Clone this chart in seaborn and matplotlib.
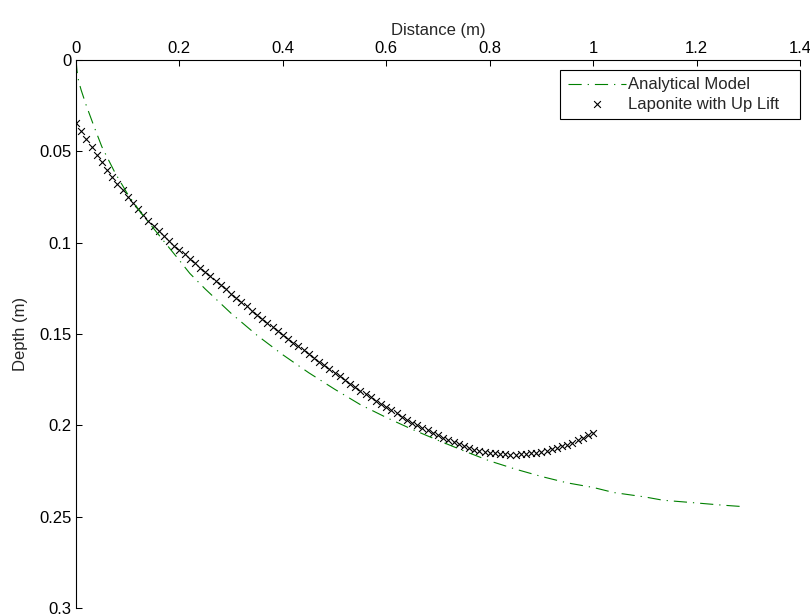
import matplotlib
matplotlib.use("Agg")
import matplotlib.pyplot as plt
import seaborn as sns
import pandas as pd

# ---------------- data ----------------
analytical_x = [0.000, 0.002, 0.005, 0.010, 0.020, 0.035, 0.050, 0.075, 0.100, 0.125,
                0.150, 0.175, 0.200, 0.220, 0.250, 0.300, 0.350, 0.400, 0.450, 0.500,
                0.550, 0.600, 0.650, 0.700, 0.750, 0.800, 0.850, 0.900, 0.950, 1.000,
                1.040, 1.100, 1.135, 1.200, 1.250, 1.290]
analytical_depth = [0.0000, 0.0060, 0.0115, 0.0165, 0.0250, 0.0365, 0.0475, 0.0615, 0.0735, 0.0835,
                    0.0922, 0.1010, 0.1097, 0.1168, 0.1254, 0.1387, 0.1507, 0.1614, 0.1712, 0.1802,
                    0.1887, 0.1957, 0.2022, 0.2082, 0.2140, 0.2195, 0.2240, 0.2280, 0.2315, 0.2340,
                    0.2368, 0.2392, 0.2410, 0.2425, 0.2437, 0.2445]

laponite_x = [0.00, 0.01, 0.02, 0.03, 0.04, 0.05, 0.06, 0.07, 0.08, 0.09,
              0.10, 0.11, 0.12, 0.13, 0.14, 0.15, 0.16, 0.17, 0.18, 0.19,
              0.20, 0.21, 0.22, 0.23, 0.24, 0.25, 0.26, 0.27, 0.28, 0.29,
              0.30, 0.31, 0.32, 0.33, 0.34, 0.35, 0.36, 0.37, 0.38, 0.39,
              0.40, 0.41, 0.42, 0.43, 0.44, 0.45, 0.46, 0.47, 0.48, 0.49,
              0.50, 0.51, 0.52, 0.53, 0.54, 0.55, 0.56, 0.57, 0.58, 0.59,
              0.60, 0.61, 0.62, 0.63, 0.64, 0.65, 0.66, 0.67, 0.68, 0.69,
              0.70, 0.71, 0.72, 0.73, 0.74, 0.75, 0.76, 0.77, 0.78, 0.79,
              0.80, 0.81, 0.82, 0.83, 0.84, 0.85, 0.86, 0.87, 0.88, 0.89,
              0.90, 0.91, 0.92, 0.93, 0.94, 0.95, 0.96, 0.97, 0.98, 0.99,
              1.00]
laponite_depth = [0.0345, 0.0391, 0.0435, 0.0478, 0.0520, 0.0560, 0.0600, 0.0639, 0.0677, 0.0714,
                  0.0750, 0.0785, 0.0818, 0.0850, 0.0881, 0.0910, 0.0938, 0.0965, 0.0991, 0.1016,
                  0.1040, 0.1064, 0.1088, 0.1112, 0.1136, 0.1160, 0.1184, 0.1208, 0.1232, 0.1256,
                  0.1280, 0.1303, 0.1326, 0.1349, 0.1372, 0.1395, 0.1417, 0.1439, 0.1461, 0.1483,
                  0.1505, 0.1526, 0.1547, 0.1568, 0.1589, 0.1610, 0.1631, 0.1652, 0.1672, 0.1692,
                  0.1712, 0.1732, 0.1752, 0.1772, 0.1791, 0.1810, 0.1829, 0.1847, 0.1865, 0.1883,
                  0.1900, 0.1918, 0.1935, 0.1952, 0.1969, 0.1985, 0.2000, 0.2014, 0.2028, 0.2042,
                  0.2055, 0.2068, 0.2080, 0.2092, 0.2104, 0.2115, 0.2125, 0.2133, 0.2140, 0.2146,
                  0.2150, 0.2154, 0.2157, 0.2159, 0.2160, 0.2160, 0.2159, 0.2157, 0.2154, 0.2150,
                  0.2145, 0.2139, 0.2132, 0.2124, 0.2115, 0.2105, 0.2094, 0.2082, 0.2069, 0.2055,
                  0.2040]

x_ticks = [0, 0.2, 0.4, 0.6, 0.8, 1.0, 1.2, 1.4]
x_tick_labels = ["0", "0.2", "0.4", "0.6", "0.8", "1", "1.2", "1.4"]
y_ticks = [0, 0.05, 0.10, 0.15, 0.20, 0.25, 0.30]
y_tick_labels = ["0", "0.05", "0.1", "0.15", "0.2", "0.25", "0.3"]

series_names = ["Analytical Model", "Laponite with Up Lift"]

# ---------------- style ----------------
sns.set_style("white")
plt.rcParams["font.family"] = ["Liberation Sans", "DejaVu Sans"]
plt.rcParams["font.size"] = 12
plt.rcParams["lines.scale_dashes"] = False

fig = plt.figure(figsize=(8.1, 6.16), dpi=100)
ax = fig.add_axes([76 / 810, 1 - 608 / 616, (800 - 76) / 810, (608 - 60) / 616])

df_a = pd.DataFrame({"x": analytical_x, "d": analytical_depth})
df_l = pd.DataFrame({"x": laponite_x, "d": laponite_depth})

sns.lineplot(data=df_a, x="x", y="d", ax=ax, sort=False, color="#008000",
             linewidth=0.8, dashes=False, label=series_names[0])
ax.lines[-1].set_dashes((9.5, 4.3, 0.9, 4.3))

sns.scatterplot(data=df_l, x="x", y="d", ax=ax, marker="x", color="black",
                s=24, linewidth=0.8, label=series_names[1])

ax.set_xlim(0, 1.4)
ax.set_ylim(0.3, 0)
ax.set_xticks(x_ticks)
ax.set_xticklabels(x_tick_labels)
ax.set_yticks(y_ticks)
ax.set_yticklabels(y_tick_labels)

ax.xaxis.tick_top()
ax.xaxis.set_label_position("top")
ax.set_xlabel("Distance (m)", fontsize=12, labelpad=4)
ax.set_ylabel("Depth (m)", fontsize=12, labelpad=8)

ax.tick_params(axis="both", direction="in", length=4.5, width=0.75,
               colors="black", labelsize=12, pad=3)
ax.tick_params(axis="x", top=True, bottom=False, labeltop=True, labelbottom=False)
ax.tick_params(axis="y", left=True, right=False)

for side in ["right", "bottom"]:
    ax.spines[side].set_visible(False)
for side in ["left", "top"]:
    ax.spines[side].set_visible(True)
    ax.spines[side].set_color("black")
    ax.spines[side].set_linewidth(0.8)

ax.grid(False)
ax.set_facecolor("white")

leg_x0 = (560 - 76) / 724
leg_top = 1 - 10 / 548
leg = ax.legend(loc="upper left", bbox_to_anchor=(leg_x0, 0.5, 1 - leg_x0, leg_top - 0.5),
                mode="expand", borderaxespad=0, frameon=True, fancybox=False,
                framealpha=1, edgecolor="black", handlelength=3.5, handletextpad=0.12,
                labelspacing=0.25, borderpad=0.45, fontsize=12)
leg.get_frame().set_linewidth(0.8)

fig.savefig("out.png", dpi=100, facecolor="white")
